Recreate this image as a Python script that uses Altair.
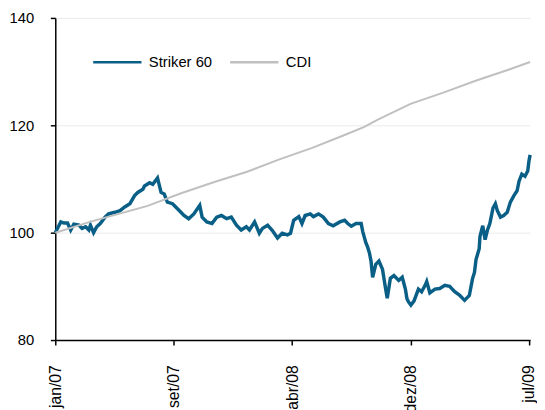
import altair as alt
import pandas as pd

# Striker 60 (x = observation index, 0 = jan/07, 120 = jul/09)
striker_t = [0, 1.4, 2.2, 3.1, 3.9, 4.7, 6.0, 6.8, 7.7, 8.5, 8.9, 9.7, 10.5, 11.4, 12.6, 13.5,
             15.1, 16.4, 17.6, 18.9, 20.1, 20.9, 22.2, 22.6, 23.9, 24.7, 25.9, 26.8, 27.6, 28.4,
             29.7, 30.9, 32.6, 33.8, 35.1, 36.6, 37.2, 38.4, 39.7, 40.9, 42.1, 43.4, 44.6, 45.9,
             47.1, 48.4, 49.2, 50.5, 51.7, 52.5, 53.8, 55.0, 56.3, 57.5, 58.8, 59.6, 60.4, 61.7,
             62.5, 63.3, 64.6, 65.4, 66.7, 67.9, 69.2, 70.4, 72.1, 73.3, 74.1, 75.0, 76.2, 77.5,
             77.9, 78.7, 79.1, 79.6, 80.0, 80.4, 81.2, 82.0, 82.9, 83.7, 84.1, 84.9, 85.8, 87.0,
             87.9, 88.7, 89.1, 89.5, 90.1, 90.9, 92.0, 92.8, 93.7, 94.1, 94.9, 96.2, 97.4, 98.7,
             99.9, 101.2, 102.4, 103.7, 104.9, 105.7, 106.2, 106.6, 107.4, 107.6, 108.3, 108.9,
             109.5, 110.1, 110.9, 111.5, 112.0, 112.8, 113.6, 114.5, 115.3, 116.2, 117.0, 117.5,
             118.2, 119.0, 119.7, 120.0, 120.3]
striker_v = [100, 102, 101.8, 101.8, 100.5, 101.6, 101.4, 100.8, 101.1, 100.5, 101.4, 100, 101.1,
             101.7, 102.9, 103.5, 103.8, 104.1, 104.8, 105.4, 106.9, 107.5, 108.1, 108.7, 109.3,
             109, 110.2, 107.5, 107.2, 105.7, 105.4, 104.5, 103.2, 102.6, 103.5, 105.1, 102.9,
             102, 101.7, 102.9, 103.2, 102.6, 102.9, 101.4, 100.5, 101.1, 100.5, 102, 99.9, 100.8,
             101.4, 100.4, 99, 99.9, 99.6, 99.9, 102.3, 103, 101.7, 103.2, 103.5, 103, 103.5,
             102.9, 101.7, 101.3, 102, 102.3, 101.7, 101.2, 101.7, 101.7, 100.2, 98.1, 97.4, 96.2,
             94.7, 91.7, 94.1, 94.7, 93.2, 89.5, 87.8, 91.5, 92, 91.1, 91.7, 89.5, 87.7, 87.1,
             86.5, 87.3, 89.5, 89, 90.2, 90.9, 88.8, 89.5, 89.6, 90.2, 90, 89, 88.4, 87.4, 88.3,
             91.4, 92.6, 95, 97, 99.3, 101.3, 98.7, 100.5, 101.7, 104.6, 105.4, 104.1, 102.9,
             103.2, 103.8, 105.7, 106.9, 107.8, 109.6, 110.9, 110.5, 111.5, 113.3, 114.5]

# CDI
cdi_t = [0, 9.2, 23.4, 31.7, 40.1, 48.4, 56.6, 65.1, 73.3, 78.3, 81.6, 90.0, 98.3, 106.5, 115.0, 120.3]
cdi_v = [100, 102.1, 105, 107.3, 109.4, 111.3, 113.6, 115.8, 118.2, 119.7, 121, 124, 126.1,
         128.3, 130.4, 131.8]

series_names = ["Striker 60", "CDI"]
series_colors = ["#0A5F87", "#C0C0C0"]
tick_pos = [0, 30, 60, 90, 120]
tick_labels = ["jan/07", "set/07", "abr/08", "dez/08", "jul/09"]
y_ticks = [80, 100, 120, 140]

df_s = pd.DataFrame({"t": striker_t, "v": striker_v, "serie": series_names[0]})
df_c = pd.DataFrame({"t": cdi_t, "v": cdi_v, "serie": series_names[1]})

label_expr = "[" + ",".join(f"'{l}'" for l in tick_labels) + "][round(datum.value/30)]"

x_enc = alt.X("t:Q",
              scale=alt.Scale(domain=[0, 120.3], nice=False, zero=False),
              axis=alt.Axis(values=tick_pos, labelExpr=label_expr, labelAngle=270,
                            labelPadding=20, labelFontSize=16, grid=False, title=None))
y_enc = alt.Y("v:Q",
              scale=alt.Scale(domain=[80, 140], nice=False, zero=False),
              axis=alt.Axis(values=y_ticks, labelPadding=17, grid=True, title=None))
color_enc = alt.Color("serie:N",
                      scale=alt.Scale(domain=series_names, range=series_colors),
                      legend=alt.Legend(title=None, orient="none", legendX=37, legendY=19,
                                        direction="horizontal", symbolType="stroke",
                                        symbolSize=2401, symbolStrokeWidth=2.5,
                                        labelOffset=6, columnPadding=12, padding=0,
                                        labelFont="Liberation Sans", labelFontSize=15,
                                        labelColor="black"))

striker = alt.Chart(df_s).mark_line(strokeWidth=3.5).encode(x=x_enc, y=y_enc, color=color_enc)
cdi = alt.Chart(df_c).mark_line(strokeWidth=2).encode(x=x_enc, y=y_enc, color=color_enc)

chart = alt.layer(striker, cdi).properties(
    width=482, height=327,
    padding={"left": 0, "top": 0, "right": 0, "bottom": 0},
).configure_view(stroke=None).configure_axis(
    domainColor="black", domainWidth=1.5, tickColor="black", tickWidth=1.5, tickSize=5,
    labelFont="Liberation Sans", labelFontSize=15, labelColor="black", gridColor="#EBEBEB",
    gridWidth=1,
)

chart.save("out.html", embed_options={"renderer": "svg", "actions": False})
